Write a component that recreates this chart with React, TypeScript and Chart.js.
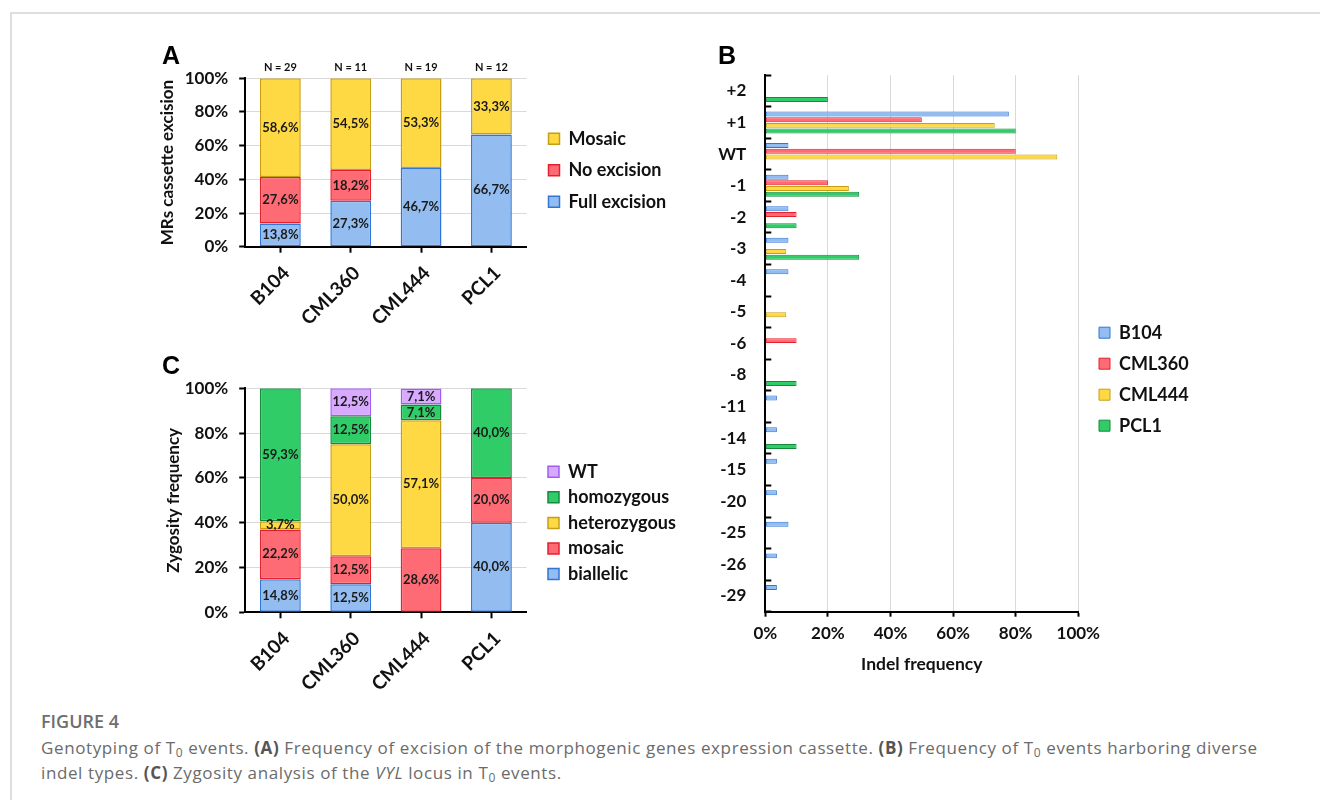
import React, { useEffect, useRef } from 'react';
import { Chart, registerables } from 'chart.js';

Chart.register(...registerables);
Chart.defaults.font.family = 'Lato';
Chart.defaults.color = '#111111';

// ---------- Panel A ----------
const lines = ['B104', 'CML360', 'CML444', 'PCL1'];
const sampleN = ['N = 29', 'N = 11', 'N = 19', 'N = 12'];
const fullExcision = [13.8, 27.3, 46.7, 66.7];
const noExcision = [27.6, 18.2, null, null];
const mosaicA = [58.6, 54.5, 53.3, 33.3];

// ---------- Panel C ----------
const biallelic = [14.8, 12.5, null, 40.0];
const mosaicC = [22.2, 12.5, 28.6, 20.0];
const heterozygous = [3.7, 50.0, 57.1, null];
const homozygous = [59.3, 12.5, 7.1, 40.0];
const wildType = [null, 12.5, 7.1, null];

// ---------- Panel B ----------
const indelTypes = ['+2', '+1', 'WT', '-1', '-2', '-3', '-4', '-5', '-6', '-8', '-11', '-14', '-15', '-20', '-25', '-26', '-29'];
const indelB104 = [null, 77.8, 7.4, 7.4, 7.4, 7.4, 7.4, null, null, null, 3.7, 3.7, 3.7, 3.7, 7.4, 3.7, 3.7];
const indelCML360 = [null, 50.0, 80.0, 20.0, 10.0, null, null, null, 10.0, null, null, null, null, null, null, null, null];
const indelCML444 = [null, 73.3, 93.3, 26.7, null, 6.7, null, 6.7, null, null, null, null, null, null, null, null, null];
const indelPCL1 = [20.0, 80.0, null, 30.0, 10.0, 30.0, null, null, null, 10.0, null, 10.0, null, null, null, null, null];

const COLORS = {
  blue: { fill: '#93bdf0', border: '#2f76d6' },
  red: { fill: '#ff6b75', border: '#e3202c' },
  yellow: { fill: '#ffd944', border: '#c69e16' },
  green: { fill: '#2fcc68', border: '#168a3c' },
  purple: { fill: '#d8aaff', border: '#a35cf0' },
};

const fmtPct = (v: number) => v.toFixed(1).replace('.', ',') + '%';
const bold = (size: number) => ({ size, weight: 'bold' as const, family: 'Lato' });

const barValueLabels = {
  id: 'barValueLabels',
  afterDatasetsDraw(chart: any, _args: any, opts: any) {
    if (!opts || !opts.show) return;
    const ctx = chart.ctx;
    ctx.save();
    ctx.font = `bold ${opts.size}px Lato`;
    ctx.fillStyle = opts.color;
    ctx.textAlign = 'center';
    ctx.textBaseline = 'middle';
    chart.data.datasets.forEach((ds: any, di: number) => {
      const meta = chart.getDatasetMeta(di);
      meta.data.forEach((el: any, i: number) => {
        const v = ds.data[i];
        if (v == null || v === 0) return;
        ctx.fillText(fmtPct(v), el.x, (el.y + el.base) / 2);
      });
    });
    ctx.restore();
  },
};

const topNotes = {
  id: 'topNotes',
  afterDraw(chart: any, _args: any, opts: any) {
    if (!opts || !opts.texts) return;
    const xs = chart.scales.x;
    const ctx = chart.ctx;
    ctx.save();
    ctx.font = `bold ${opts.size}px Lato`;
    ctx.fillStyle = opts.color;
    ctx.textAlign = 'center';
    ctx.textBaseline = 'middle';
    opts.texts.forEach((t: string, i: number) => {
      ctx.fillText(t, xs.getPixelForValue(i), chart.chartArea.top - opts.gap);
    });
    ctx.restore();
  },
};

const legendPlace = {
  id: 'legendPlace',
  afterLayout(chart: any, _args: any, opts: any) {
    const lg = chart.legend;
    if (!lg || !opts || opts.x == null) return;
    const pad = lg.options.labels.padding;
    const w = lg.width;
    const h = lg.height;
    lg.left = opts.x - pad;
    lg.right = lg.left + w;
    lg.top = opts.y - opts.itemH / 2 - pad;
    lg.bottom = lg.top + h;
  },
};

function stackedConfig(opts: {
  datasets: any[];
  yTitle: string;
  yTitlePad: number;
  padTop: number;
  padRight: number;
  yWidth: number;
  xHeight: number;
  legendX: number;
  legendY: number;
  legendPad: number;
  notes?: string[];
}) {
  return {
    type: 'bar',
    data: { labels: lines, datasets: opts.datasets },
    options: {
      animation: false,
      responsive: false,
      layout: { padding: { top: opts.padTop, right: opts.padRight, left: 0, bottom: 0 } },
      datasets: { bar: { categoryPercentage: 0.58, barPercentage: 1 } },
      scales: {
        x: {
          stacked: true,
          grid: { display: true, drawOnChartArea: false, offset: false, tickLength: 6, tickWidth: 2, tickColor: '#000' },
          border: { color: '#000', width: 2 },
          ticks: { font: bold(19), color: '#111', minRotation: 45, maxRotation: 45, autoSkip: false, padding: 9, labelOffset: 6 },
          afterFit: (s: any) => { s.height = opts.xHeight; },
        },
        y: {
          stacked: true,
          min: 0,
          max: 100,
          ticks: { stepSize: 20, callback: (v: any) => v + '%', font: bold(17), color: '#111', padding: 11 },
          grid: { color: '#d9d9d9', lineWidth: 1, tickColor: '#000', tickLength: 6, tickWidth: 2 },
          border: { color: '#000', width: 2 },
          title: { display: true, text: opts.yTitle, font: bold(17), color: '#111', padding: { top: opts.yTitlePad, bottom: 0 } },
          afterFit: (s: any) => { s.width = opts.yWidth; },
        },
      },
      plugins: {
        legend: {
          position: 'chartArea',
          align: 'start',
          reverse: true,
          labels: { boxWidth: 11, boxHeight: 11, padding: opts.legendPad, font: bold(18), color: '#111' },
        },
        tooltip: { enabled: false },
        legendPlace: { x: opts.legendX, y: opts.legendY, itemH: 18 },
        barValueLabels: { show: true, size: 13, color: '#1a1a1a' },
        topNotes: opts.notes ? { texts: opts.notes, size: 11, color: '#111', gap: 11 } : {},
      },
    },
    plugins: [barValueLabels, topNotes, legendPlace],
  };
}

const seg = (label: string, data: any[], c: { fill: string; border: string }) => ({
  label,
  data,
  backgroundColor: c.fill,
  borderColor: c.border,
  borderWidth: 1.5,
  borderSkipped: false,
});

function makeA() {
  return stackedConfig({
    datasets: [
      seg('Full excision', fullExcision, COLORS.blue),
      seg('No excision', noExcision, COLORS.red),
      seg('Mosaic', mosaicA, COLORS.yellow),
    ],
    yTitle: 'MRs cassette excision',
    yTitlePad: 7,
    padTop: 38.3,
    padRight: 550 - 376.6,
    yWidth: 95.2,
    xHeight: 93.3,
    legendX: 398.5,
    legendY: 98.7,
    legendPad: 13.5,
    notes: sampleN,
  });
}

function makeC() {
  return stackedConfig({
    datasets: [
      seg('biallelic', biallelic, COLORS.blue),
      seg('mosaic', mosaicC, COLORS.red),
      seg('heterozygous', heterozygous, COLORS.yellow),
      seg('homozygous', homozygous, COLORS.green),
      seg('WT', wildType, COLORS.purple),
    ],
    yTitle: 'Zygosity frequency',
    yTitlePad: 13,
    padTop: 48.3,
    padRight: 550 - 376.6,
    yWidth: 95.2,
    xHeight: 97.7,
    legendX: 398,
    legendY: 131.7,
    legendPad: 7.6,
  });
}

const hbar = (label: string, data: any[], c: { fill: string; border: string }) => ({
  label,
  data,
  backgroundColor: c.fill,
  borderColor: c.border,
  borderWidth: 1,
  borderSkipped: false,
  categoryPercentage: 0.717,
  barPercentage: 0.88,
});

function makeB() {
  return {
    type: 'bar',
    data: {
      labels: indelTypes,
      datasets: [
        hbar('B104', indelB104, COLORS.blue),
        hbar('CML360', indelCML360, COLORS.red),
        hbar('CML444', indelCML444, COLORS.yellow),
        hbar('PCL1', indelPCL1, COLORS.green),
      ],
    },
    options: {
      animation: false,
      responsive: false,
      indexAxis: 'y',
      layout: { padding: { top: 32, right: 620 - 378.3, left: 0, bottom: 0 } },
      scales: {
        x: {
          min: 0,
          max: 100,
          ticks: { stepSize: 20, callback: (v: any) => v + '%', font: bold(17), color: '#111', padding: 7 },
          grid: { color: '#d9d9d9', lineWidth: 1, tickColor: '#000', tickLength: 5, tickWidth: 2 },
          border: { color: '#000', width: 2 },
          title: { display: true, text: 'Indel frequency', font: bold(17.5), color: '#111', padding: { top: 0, bottom: 14.8 } },
          afterFit: (s: any) => { s.height = 78.3; },
        },
        y: {
          grid: { display: true, drawOnChartArea: false, offset: true, tickLength: -6, tickWidth: 2, tickColor: '#000' },
          border: { color: '#000', width: 2 },
          ticks: { font: bold(17), color: '#111', padding: 25, autoSkip: false },
          afterFit: (s: any) => { s.width = 65.3; },
        },
      },
      plugins: {
        legend: {
          position: 'chartArea',
          align: 'start',
          labels: { boxWidth: 11, boxHeight: 11, padding: 13, font: bold(18), color: '#111' },
        },
        tooltip: { enabled: false },
        legendPlace: { x: 399, y: 292.7, itemH: 18 },
      },
    },
    plugins: [legendPlace],
  };
}

function ChartBox({ left, top, width, height, make }: { left: number; top: number; width: number; height: number; make: () => any }) {
  const ref = useRef<HTMLCanvasElement>(null);
  useEffect(() => {
    const chart = new Chart(ref.current as HTMLCanvasElement, make());
    return () => chart.destroy();
  }, []);
  return (
    <canvas
      ref={ref}
      width={width}
      height={height}
      style={{ position: 'absolute', left, top, width, height }}
    />
  );
}

const letterStyle = (left: number, top: number): React.CSSProperties => ({
  position: 'absolute',
  left,
  top,
  font: 'bold 25px "Liberation Sans", Arial, sans-serif',
  lineHeight: '25px',
  color: '#000',
});

const subStyle: React.CSSProperties = { fontSize: '12px', verticalAlign: '-3px', lineHeight: 0 };
const boldCap: React.CSSProperties = { color: '#555', fontWeight: 700 };

export default function App() {
  return (
    <div style={{ position: 'absolute', left: 0, top: 0, width: 1320, height: 800, background: '#fff', overflow: 'hidden' }}>
      <div style={{ position: 'absolute', left: 10, top: 12, width: 1320, height: 800, borderTop: '2px solid #dedede', borderLeft: '2px solid #dedede' }} />
      <ChartBox left={150} top={40} width={550} height={300} make={makeA} />
      <ChartBox left={150} top={340} width={550} height={370} make={makeC} />
      <ChartBox left={700} top={40} width={620} height={650} make={makeB} />
      <div style={letterStyle(162, 42.7)}>A</div>
      <div style={letterStyle(718, 43.4)}>B</div>
      <div style={letterStyle(162, 352.7)}>C</div>
      <div style={{ position: 'absolute', left: 41, top: 711.5, font: '600 18px "Open Sans", sans-serif', lineHeight: '18px', color: '#6e6e6e', whiteSpace: 'nowrap' }}>
        FIGURE 4
      </div>
      <div style={{ position: 'absolute', left: 41, top: 735, font: '17px "Open Sans", sans-serif', letterSpacing: '0.61px', lineHeight: '25px', color: '#6b6b6b', whiteSpace: 'nowrap' }}>
        Genotyping of T<sub style={subStyle}>0</sub> events. <b style={boldCap}>(A)</b> Frequency of excision of the morphogenic genes expression cassette. <b style={boldCap}>(B)</b> Frequency of T<sub style={subStyle}>0</sub> events harboring diverse
        <br />
        indel types. <b style={boldCap}>(C)</b> Zygosity analysis of the <i>VYL</i> locus in T<sub style={subStyle}>0</sub> events.
      </div>
    </div>
  );
}
